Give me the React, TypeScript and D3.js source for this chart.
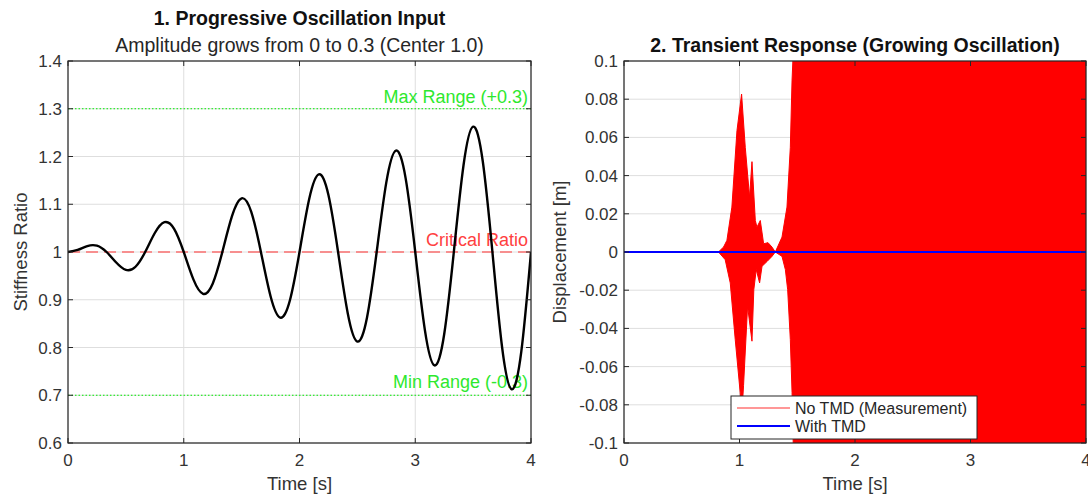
import React from "react";
import * as d3 from "d3";

// ---------- Data ----------
const xTicks = [0, 1, 2, 3, 4];
const leftYTicks = [0.6, 0.7, 0.8, 0.9, 1.0, 1.1, 1.2, 1.3, 1.4];
const leftYTickLabels = ["0.6", "0.7", "0.8", "0.9", "1", "1.1", "1.2", "1.3", "1.4"];
const rightYTicks = [-0.1, -0.08, -0.06, -0.04, -0.02, 0, 0.02, 0.04, 0.06, 0.08, 0.1];
const rightYTickLabels = ["-0.1", "-0.08", "-0.06", "-0.04", "-0.02", "0", "0.02", "0.04", "0.06", "0.08", "0.1"];

const stiffTime = [
  0, 0.0833, 0.1667, 0.25, 0.3333, 0.4167, 0.5, 0.5833, 0.6667, 0.75, 0.8333, 0.9167,
  1.0, 1.0833, 1.1667, 1.25, 1.3333, 1.4167, 1.5, 1.5833, 1.6667, 1.75, 1.8333, 1.9167,
  2.0, 2.0833, 2.1667, 2.25, 2.3333, 2.4167, 2.5, 2.5833, 2.6667, 2.75, 2.8333, 2.9167,
  3.0, 3.0833, 3.1667, 3.25, 3.3333, 3.4167, 3.5, 3.5833, 3.6667, 3.75, 3.8333, 3.9167, 4.0,
];
const stiffValue = [
  1.0, 1.0044, 1.0125, 1.0133, 1.0, 0.9779, 0.9625, 0.9691, 1.0, 1.0398, 1.0625, 1.0486,
  1.0, 0.9426, 0.9125, 0.9337, 1.0, 1.0751, 1.1125, 1.084, 1.0, 0.9072, 0.8625, 0.8984,
  1.0, 1.1105, 1.1625, 1.1193, 1.0, 0.8718, 0.8125, 0.863, 1.0, 1.1458, 1.2125, 1.1547,
  1.0, 0.8365, 0.7625, 0.8277, 1.0, 1.1812, 1.2625, 1.19, 1.0, 0.8011, 0.7125, 0.7923, 1.0,
];
const criticalRatio = 1.0;
const maxRange = 1.3;
const minRange = 0.7;

// Envelope of the "No TMD" response (dense oscillation) read from plot 2
const noTmdUpperTime = [0, 0.818, 0.862, 0.891, 0.934, 0.978, 1.018, 1.05, 1.087, 1.108, 1.137, 1.151, 1.18, 1.209, 1.247, 1.281, 1.31, 1.368, 1.411, 1.44, 1.455, 1.462, 1.48, 4];
const noTmdUpperValue = [0, 0, 0.0026, 0.0061, 0.0235, 0.0635, 0.0827, 0.0548, 0.0287, 0.0473, 0.0165, 0.013, 0.0165, 0.0043, 0.0049, 0.0026, 0, 0.0078, 0.0235, 0.0548, 0.09, 0.1, 0.3, 0.3];
const noTmdLowerTime = [0, 0.818, 0.876, 0.92, 0.963, 1.006, 1.02, 1.035, 1.07, 1.108, 1.124, 1.145, 1.174, 1.195, 1.238, 1.281, 1.31, 1.368, 1.397, 1.417, 1.44, 1.455, 1.465, 1.48, 4];
const noTmdLowerValue = [0, 0, -0.004, -0.0162, -0.0458, -0.0736, -0.085, -0.07, -0.0284, -0.0467, -0.0197, -0.0092, -0.0162, -0.0075, -0.005, -0.0023, 0, -0.0023, -0.0092, -0.0197, -0.0458, -0.0736, -0.1, -0.3, -0.3];

const withTmdTime = [0, 4];
const withTmdValue = [0, 0];

// ---------- Layout ----------
const W = 1088;
const H = 497;
const FONT = "'Liberation Sans', Arial, Helvetica, sans-serif";
const AX = "#262626";
const GRID = "#dedede";
const TICK_LEN = 5;
const TICK_FS = 17;
const LABEL_FS = 18.5;
const TITLE_FS = 19.5;

const L = { x0: 68, x1: 531, y0: 61, y1: 443 };
const R = { x0: 624, x1: 1086, y0: 61, y1: 443 };

export default function App() {
  const xL = d3.scaleLinear().domain([0, 4]).range([L.x0, L.x1]);
  const yL = d3.scaleLinear().domain([0.6, 1.4]).range([L.y1, L.y0]);
  const xR = d3.scaleLinear().domain([0, 4]).range([R.x0, R.x1]);
  const yR = d3.scaleLinear().domain([-0.1, 0.1]).range([R.y1, R.y0]);

  const stiffPts: [number, number][] = stiffTime.map((t, i) => [t, stiffValue[i]]);
  const stiffLine = d3
    .line<[number, number]>()
    .x((d) => xL(d[0]))
    .y((d) => yL(d[1]))
    .curve(d3.curveNatural)(stiffPts) as string;

  const upper: [number, number][] = noTmdUpperTime.map((t, i) => [t, noTmdUpperValue[i]]);
  const lower: [number, number][] = noTmdLowerTime.map((t, i) => [t, noTmdLowerValue[i]]);
  const envPts = [...upper, ...lower.slice().reverse()];
  const envPath =
    (d3
      .line<[number, number]>()
      .x((d) => xR(d[0]))
      .y((d) => yR(d[1]))(envPts) as string) + "Z";

  const withPts: [number, number][] = withTmdTime.map((t, i) => [t, withTmdValue[i]]);
  const withLine = d3
    .line<[number, number]>()
    .x((d) => xR(d[0]))
    .y((d) => yR(d[1]))(withPts) as string;

  const axesFrame = (
    box: typeof L,
    xs: d3.ScaleLinear<number, number>,
    ys: d3.ScaleLinear<number, number>,
    yt: number[],
    ytl: string[],
    key: string
  ) => (
    <g key={key}>
      {xTicks.map((t) => (
        <g key={"xt" + t}>
          <line x1={xs(t)} x2={xs(t)} y1={box.y1} y2={box.y1 - TICK_LEN} stroke={AX} strokeWidth={1} />
          <line x1={xs(t)} x2={xs(t)} y1={box.y0} y2={box.y0 + TICK_LEN} stroke={AX} strokeWidth={1} />
          <text x={xs(t)} y={box.y1 + 23} textAnchor="middle" fontSize={TICK_FS} fill="#333" fontFamily={FONT}>
            {t}
          </text>
        </g>
      ))}
      {yt.map((t, i) => (
        <g key={"yt" + t}>
          <line x1={box.x0} x2={box.x0 + TICK_LEN} y1={ys(t)} y2={ys(t)} stroke={AX} strokeWidth={1} />
          <line x1={box.x1} x2={box.x1 - TICK_LEN} y1={ys(t)} y2={ys(t)} stroke={AX} strokeWidth={1} />
          <text x={box.x0 - 6} y={ys(t) + 6} textAnchor="end" fontSize={TICK_FS} fill="#333" fontFamily={FONT}>
            {ytl[i]}
          </text>
        </g>
      ))}
      <rect x={box.x0} y={box.y0} width={box.x1 - box.x0} height={box.y1 - box.y0} fill="none" stroke={AX} strokeWidth={1.2} />
    </g>
  );

  const grid = (box: typeof L, xs: d3.ScaleLinear<number, number>, ys: d3.ScaleLinear<number, number>, yt: number[], key: string) => (
    <g key={key}>
      {xTicks.map((t) => (
        <line key={"gx" + t} x1={xs(t)} x2={xs(t)} y1={box.y0} y2={box.y1} stroke={GRID} strokeWidth={1} />
      ))}
      {yt.map((t) => (
        <line key={"gy" + t} x1={box.x0} x2={box.x1} y1={ys(t)} y2={ys(t)} stroke={GRID} strokeWidth={1} />
      ))}
    </g>
  );

  return (
    <svg
      width={W}
      height={H}
      viewBox={`0 0 ${W} ${H}`}
      style={{ position: "absolute", left: 0, top: 0, background: "#fff" }}
      fontFamily={FONT}
    >
      <rect x={0} y={0} width={W} height={H} fill="#fff" />
      <defs>
        <clipPath id="clipR">
          <rect x={R.x0} y={R.y0} width={R.x1 - R.x0} height={R.y1 - R.y0} />
        </clipPath>
        <clipPath id="clipL">
          <rect x={L.x0} y={L.y0} width={L.x1 - L.x0} height={L.y1 - L.y0} />
        </clipPath>
      </defs>

      {/* ---------------- Left panel ---------------- */}
      {grid(L, xL, yL, leftYTicks, "gl")}
      <line x1={xL(0)} x2={xL(4)} y1={yL(maxRange)} y2={yL(maxRange)} stroke="#00ee00" strokeWidth={1.2} strokeDasharray="1.5 2" />
      <line x1={xL(0)} x2={xL(4)} y1={yL(minRange)} y2={yL(minRange)} stroke="#00ee00" strokeWidth={1.2} strokeDasharray="1.5 2" />
      <line x1={xL(0)} x2={xL(4)} y1={yL(criticalRatio)} y2={yL(criticalRatio)} stroke="#ff3030" strokeWidth={1.2} strokeDasharray="12 6" />
      <text x={xL(4) - 3} y={yL(maxRange) - 6} textAnchor="end" fontSize={18} fill="#2ee82e">
        Max Range (+0.3)
      </text>
      <text x={xL(4) - 3} y={yL(minRange) - 7} textAnchor="end" fontSize={18} fill="#2ee82e">
        Min Range (-0.3)
      </text>
      <text x={xL(4) - 3} y={yL(criticalRatio) - 6} textAnchor="end" fontSize={18} fill="#ff4040">
        Critical Ratio
      </text>
      <path d={stiffLine} fill="none" stroke="#000" strokeWidth={2.4} clipPath="url(#clipL)" />
      {axesFrame(L, xL, yL, leftYTicks, leftYTickLabels, "al")}
      <text x={(L.x0 + L.x1) / 2} y={25} textAnchor="middle" fontSize={TITLE_FS} fontWeight="bold" fill="#111">
        1. Progressive Oscillation Input
      </text>
      <text x={(L.x0 + L.x1) / 2} y={52} textAnchor="middle" fontSize={TITLE_FS} fill="#262626">
        Amplitude grows from 0 to 0.3 (Center 1.0)
      </text>
      <text x={(L.x0 + L.x1) / 2} y={490} textAnchor="middle" fontSize={LABEL_FS} fill="#333">
        Time [s]
      </text>
      <text transform={`translate(27,${(L.y0 + L.y1) / 2}) rotate(-90)`} textAnchor="middle" fontSize={LABEL_FS} fill="#333">
        Stiffness Ratio
      </text>

      {/* ---------------- Right panel ---------------- */}
      {grid(R, xR, yR, rightYTicks, "gr")}
      <path d={envPath} fill="#ff0000" stroke="#ff0000" strokeWidth={1} clipPath="url(#clipR)" />
      <path d={withLine} fill="none" stroke="#0000ff" strokeWidth={2} clipPath="url(#clipR)" />
      {axesFrame(R, xR, yR, rightYTicks, rightYTickLabels, "ar")}
      <text x={(R.x0 + R.x1) / 2} y={52} textAnchor="middle" fontSize={TITLE_FS} fontWeight="bold" fill="#111">
        2. Transient Response (Growing Oscillation)
      </text>
      <text x={(R.x0 + R.x1) / 2} y={490} textAnchor="middle" fontSize={LABEL_FS} fill="#333">
        Time [s]
      </text>
      <text transform={`translate(566,${(R.y0 + R.y1) / 2}) rotate(-90)`} textAnchor="middle" fontSize={LABEL_FS} fill="#333">
        Displacement [m]
      </text>

      {/* Legend */}
      <g>
        <rect x={731} y={396} width={246} height={43} fill="#fff" stroke={AX} strokeWidth={1} />
        <line x1={737} x2={790} y1={408} y2={408} stroke="#ff3030" strokeWidth={1.2} />
        <text x={795} y={414} fontSize={16} fill="#262626">
          No TMD (Measurement)
        </text>
        <line x1={737} x2={790} y1={426} y2={426} stroke="#0000ff" strokeWidth={2.2} />
        <text x={795} y={432} fontSize={16} fill="#262626">
          With TMD
        </text>
      </g>
    </svg>
  );
}
